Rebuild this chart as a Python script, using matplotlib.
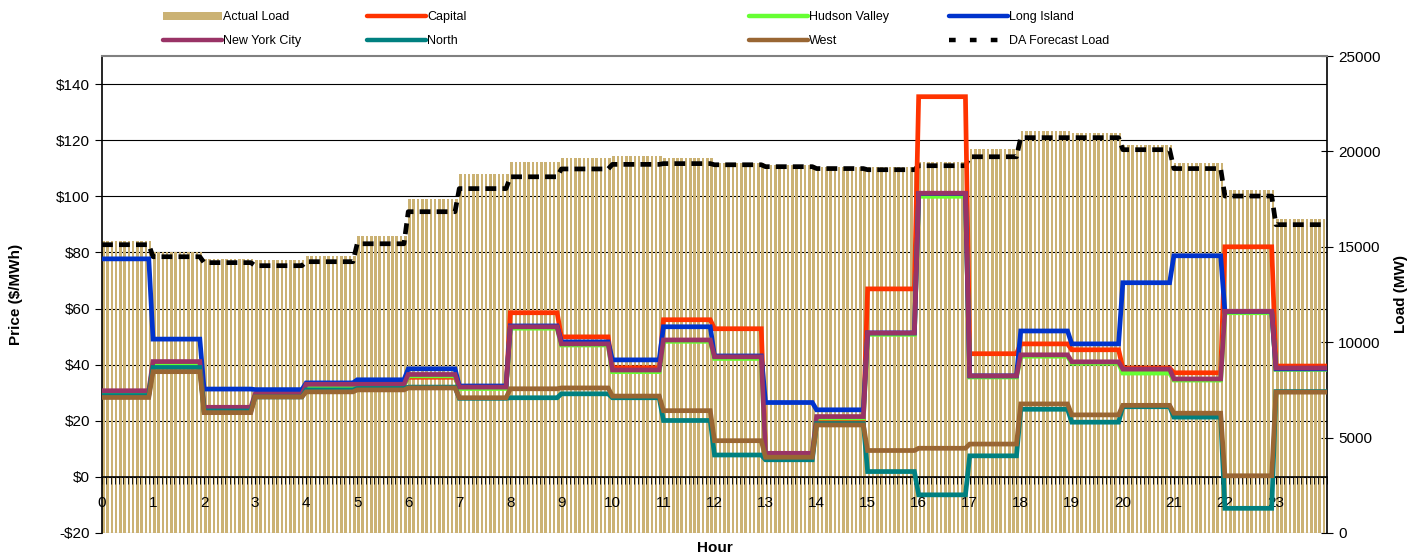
import numpy as np
import matplotlib.pyplot as plt
from matplotlib.lines import Line2D
from matplotlib.patches import Patch
from matplotlib.ticker import FuncFormatter, MultipleLocator

plt.rcParams['font.family'] = ['Liberation Sans', 'DejaVu Sans']

# hourly values, each hour is drawn as twelve 5-minute intervals
hours = list(range(24))
actual_load = [15300, 14730, 14360, 14310, 14520, 15570, 17500, 18820, 19440, 19650, 19780, 19650,
               19390, 19300, 19200, 19200, 19440, 20130, 21070, 20960, 20320, 19380, 17960, 16440]
da_forecast = [15110, 14480, 14170, 14010, 14220, 15160, 16840, 18050, 18670, 19080, 19320, 19360,
               19300, 19200, 19100, 19040, 19250, 19720, 20720, 20720, 20090, 19100, 17660, 16160]

capital = [29.5, 40, 24, 29, 32, 33, 35.5, 32, 58.5, 49.9, 38.9, 56,
           52.8, 8, 20.3, 67, 135.5, 43.9, 47.4, 45.3, 38.8, 37.1, 82, 39.5]
hudson_valley = [30, 40, 24, 29, 32.5, 32.5, 36, 31.5, 53, 47, 37.5, 48.3,
                 42.2, 8, 21, 50.8, 100, 35.6, 43, 40.5, 37, 34.5, 58.5, 38.3]
long_island = [77.7, 49.1, 31.3, 31.1, 33.5, 34.6, 38.5, 32.4, 53.8, 48.1, 41.7, 53.5,
               43.1, 26.5, 23.9, 51.3, 101, 36, 52, 47.4, 69.2, 78.8, 59, 38.5]
new_york_city = [30.7, 41.1, 24.8, 29.5, 33, 33, 36.5, 32, 53.5, 47.4, 38.1, 48.8,
                 42.8, 8.4, 21.5, 51.3, 101.1, 36, 43.5, 41, 38.4, 34.9, 59, 38.8]
north = [29, 39, 23.5, 28.5, 31, 31.5, 32, 28, 28.2, 29.6, 28.2, 20.1,
         7.8, 6.1, 19, 1.9, -6.4, 7.5, 24.1, 19.5, 25, 21.3, -11.2, 30.4]
west = [28.3, 37.5, 22.9, 28.5, 30.3, 31, 31.7, 28.2, 31.4, 31.7, 28.8, 23.6,
        12.9, 7, 18.5, 9.4, 10.2, 11.7, 26, 22.1, 25.5, 22.7, 0.4, 30.2]

zones = [
    ('Capital', capital, '#FF3300'),
    ('Hudson Valley', hudson_valley, '#66FF33'),
    ('Long Island', long_island, '#0033CC'),
    ('New York City', new_york_city, '#993366'),
    ('North', north, '#008080'),
    ('West', west, '#996633'),
]

BAR = '#CBB274'
PMIN, PMAX = -20, 150
LMAX = 25000


def intervals(vals):
    v = np.repeat(np.asarray(vals, dtype=float), 12)
    return np.append(v, v[-1])


def load_to_price(v):
    return v / LMAX * (PMAX - PMIN) + PMIN


x = np.arange(24 * 12 + 1) / 12.0

fig = plt.figure(figsize=(14.17, 5.57), dpi=100)
ax = fig.add_axes([0.07198, 0.04309, 0.8645, 0.85637])   # load, bottom layer
ax2 = ax.twinx()                                          # price, top layer

# load bars
ax.bar(x[:-1], np.repeat(actual_load, 12), width=0.05, align='edge',
       color=BAR, zorder=2, linewidth=0)
for p in range(PMIN, PMAX, 20):
    ax.axhline((p - PMIN) / (PMAX - PMIN) * LMAX, color='black', lw=0.8, zorder=1)
ax.set_ylim(0, LMAX)
ax.set_xlim(0, 24)
ax.yaxis.tick_right()
ax.yaxis.set_label_position('right')
ax.set_yticks(range(0, LMAX + 1, 5000))
ax.tick_params(axis='y', direction='inout', length=8, labelsize=11, pad=4)
ax.tick_params(axis='x', which='both', bottom=False, top=False,
               labelbottom=False, labeltop=False)
ax.set_ylabel('Load (MW)', fontsize=11, fontweight='bold', labelpad=10)
for s in ['left', 'bottom', 'top']:
    ax.spines[s].set_visible(False)
ax.spines['right'].set_linewidth(1.2)

# price lines
ax2.plot(x, load_to_price(intervals(da_forecast)),
         color='black', lw=3.4, dashes=(2.3, 1.3), zorder=3)
for name, vals, c in zones:
    ax2.plot(x, intervals(vals), color=c, lw=3.4, solid_joinstyle='miter', zorder=4)

ax2.set_ylim(PMIN, PMAX)
ax2.set_xlim(0, 24)
ax2.yaxis.tick_left()
ax2.yaxis.set_label_position('left')
ax2.set_yticks(range(PMIN, 141, 20))
ax2.yaxis.set_major_formatter(FuncFormatter(lambda v, _: ('-$%d' % -v) if v < 0 else '$%d' % v))
ax2.tick_params(axis='y', direction='out', length=5, labelsize=11)
ax2.set_ylabel('Price ($/MWh)', fontsize=11, fontweight='bold', labelpad=24)

ax2.xaxis.set_visible(True)
ax2.spines['bottom'].set_visible(True)
ax2.spines['bottom'].set_position(('data', 0))
ax2.spines['bottom'].set_linewidth(1.2)
ax2.spines['left'].set_linewidth(1.2)
ax2.spines['right'].set_visible(False)
ax2.spines['top'].set_color('#808080')
ax2.spines['top'].set_linewidth(1.5)
ax2.set_xticks(hours)
ax2.set_xticklabels([str(h) for h in hours])
ax2.xaxis.set_minor_locator(MultipleLocator(1 / 12))
ax2.tick_params(axis='x', which='both', direction='out', length=5, labelsize=11, pad=9,
                bottom=True, labelbottom=True)
fig.text(0.5045, 0.016, 'Hour', ha='center', va='center', fontsize=11, fontweight='bold')

# legend, four columns of two entries
da_handle = Line2D([], [], color='black', lw=3.2, dashes=(1.5, 3.2))
load_handle = Patch(facecolor=BAR, edgecolor='none')
zh = {name: Line2D([], [], color=c, lw=3.2, solid_capstyle='round') for name, _, c in zones}
columns = [
    ([load_handle, zh['New York City']], ['Actual Load', 'New York City'], 163),
    ([zh['Capital'], zh['North']], ['Capital', 'North'], 367),
    ([zh['Hudson Valley'], zh['West']], ['Hudson Valley', 'West'], 749),
    ([zh['Long Island'], da_handle], ['Long Island', 'DA Forecast Load'], 949),
]
for hs, ls, px in columns:
    fig.legend(hs, ls, loc='upper left', bbox_to_anchor=(px / 1417, 1 - 11 / 557),
               frameon=False, fontsize=9, handlelength=4.7, handleheight=0.6,
               handletextpad=0.1, labelspacing=0.95, borderpad=0, borderaxespad=0)

fig.savefig('out.png', dpi=100)
